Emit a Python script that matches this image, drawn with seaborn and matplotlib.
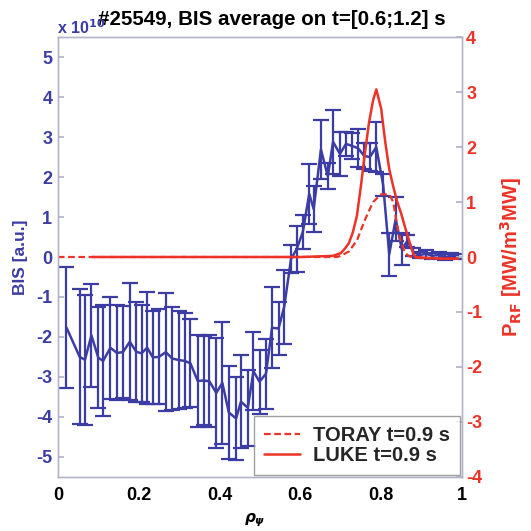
import numpy as np
import matplotlib
matplotlib.use("Agg")
import matplotlib.pyplot as plt
import seaborn as sns

# BIS profile (units of 1e10), averaged on t=[0.6;1.2] s
rho_bis = [0.021, 0.054, 0.067, 0.083, 0.100, 0.112, 0.130, 0.146, 0.161, 0.178,
           0.194, 0.207, 0.221, 0.235, 0.250, 0.267, 0.283, 0.300, 0.314, 0.328,
           0.346, 0.361, 0.375, 0.392, 0.407, 0.423, 0.441, 0.453, 0.470, 0.484,
           0.499, 0.515, 0.530, 0.546, 0.560, 0.577, 0.591, 0.606, 0.622, 0.633,
           0.651, 0.668, 0.681, 0.698, 0.713, 0.728, 0.743, 0.758, 0.772, 0.788,
           0.805, 0.820, 0.836, 0.851, 0.865, 0.880, 0.896, 0.911, 0.927, 0.942,
           0.958, 0.973, 0.989]
bis = [-1.76, -2.50, -2.57, -1.96, -2.52, -2.60, -2.27, -2.40, -2.38, -2.12,
       -2.37, -2.41, -2.27, -2.51, -2.50, -2.38, -2.54, -2.58, -2.60, -2.66,
       -3.10, -3.09, -3.11, -3.40, -3.15, -3.89, -4.04, -3.62, -3.77, -2.86,
       -3.12, -2.92, -1.77, -1.79, -1.25, -0.05, 0.20, 0.62, 1.58, 1.20,
       2.69, 2.02, 2.88, 2.58, 2.83, 2.78, 2.72, 2.53, 2.50, 2.75,
       1.80, 0.07, 0.95, 0.20, 0.40, 0.12, 0.05, 0.08, 0.03, 0.05,
       0.00, 0.03, 0.02]
bis_err = [1.52, 1.69, 1.63, 1.28, 1.27, 1.39, 1.28, 1.19, 1.16, 1.46,
           1.25, 1.22, 1.40, 1.17, 1.19, 1.47, 1.28, 1.23, 1.19, 1.10,
           1.15, 1.12, 1.15, 1.37, 1.53, 1.16, 1.03, 1.16, 0.95, 0.98,
           0.80, 0.88, 1.01, 0.67, 0.93, 0.36, 0.58, 0.43, 0.75, 0.58,
           0.74, 0.33, 0.80, 0.55, 0.30, 0.33, 0.48, 0.33, 0.35, 0.63,
           0.28, 0.54, 0.56, 0.39, 0.14, 0.10, 0.08, 0.10, 0.08, 0.07,
           0.07, 0.06, 0.06]

# RF power deposition profiles [MW/m^3/MW]
rho_toray = [0.0, 0.2, 0.4, 0.6, 0.69, 0.70, 0.72, 0.74, 0.76, 0.78, 0.80, 0.82,
             0.83, 0.84, 0.85, 0.86, 0.87, 0.88, 0.90, 0.95, 0.99]
p_toray = [0.0, 0.0, 0.0, 0.0, 0.0, 0.02, 0.10, 0.30, 0.68, 1.00, 1.14, 1.14,
           1.00, 0.55, 0.25, 0.07, 0.01, 0.0, -0.02, -0.03, -0.03]
rho_luke = [0.085, 0.2, 0.4, 0.6, 0.68, 0.70, 0.71, 0.72, 0.73, 0.74, 0.75, 0.76,
            0.77, 0.78, 0.788, 0.80, 0.81, 0.82, 0.83, 0.84, 0.85, 0.86, 0.87,
            0.88, 0.885, 0.90, 0.95, 0.99]
p_luke = [0.0, 0.0, 0.0, 0.0, 0.02, 0.07, 0.15, 0.25, 0.45, 0.75, 1.30, 1.90,
          2.45, 2.85, 3.05, 2.70, 2.10, 1.60, 1.28, 1.00, 0.78, 0.52, 0.28,
          0.05, 0.0, -0.01, -0.03, -0.03]

x_ticks = [0, 0.2, 0.4, 0.6, 0.8, 1]
x_tick_labels = ["0", "0.2", "0.4", "0.6", "0.8", "1"]
left_ticks = [-5, -4, -3, -2, -1, 0, 1, 2, 3, 4, 5]
right_ticks = [-4, -3, -2, -1, 0, 1, 2, 3, 4]

BLUE = "#3c3ca5"
RED = "#ec3328"
SPINE = "#b4b4c8"

sns.set_theme(style="white")
plt.rcParams["font.family"] = ["Liberation Sans", "DejaVu Sans"]
plt.rcParams["font.weight"] = "bold"

fig = plt.figure(figsize=(5.31, 5.31), dpi=100)
ax = fig.add_axes([0.109, 0.102, 0.761, 0.828])

ax.errorbar(rho_bis, bis, yerr=bis_err, fmt="none", ecolor=BLUE,
            elinewidth=1.6, capsize=5.5, capthick=1.6, zorder=2)
sns.lineplot(x=rho_bis, y=bis, ax=ax, color=BLUE, linewidth=1.8, zorder=3)

ax.set_xlim(0, 1)
ax.set_ylim(-5.5, 5.5)
ax.set_xticks(x_ticks)
ax.set_xticklabels(x_tick_labels)
ax.set_yticks(left_ticks)
ax.set_yticklabels([str(t) for t in left_ticks])
ax.tick_params(axis="x", direction="in", length=4, colors=SPINE,
               labelcolor="black", labelsize=13, pad=7)
ax.tick_params(axis="y", direction="in", length=4, colors=SPINE,
               labelcolor=BLUE, labelsize=13, pad=4)
for lbl in ax.get_xticklabels() + ax.get_yticklabels():
    lbl.set_fontweight("bold")
ax.set_ylabel("BIS [a.u.]", color=BLUE, fontsize=12.5, fontweight="bold",
              labelpad=6)
ax.set_xlabel(r"$\rho_\psi$", color="black", fontsize=11, labelpad=4)
ax.xaxis.set_label_coords(0.486, -0.078)

ax2 = ax.twinx()
sns.lineplot(x=rho_toray, y=p_toray, ax=ax2, color=RED, linewidth=1.6,
             linestyle=(0, (3, 1.6)), label="TORAY t=0.9 s")
sns.lineplot(x=rho_luke, y=p_luke, ax=ax2, color=RED, linewidth=1.8,
             label="LUKE t=0.9 s")
ax2.set_ylim(-4, 4)
ax2.set_yticks(right_ticks)
ax2.set_yticklabels([str(t) for t in right_ticks])
ax2.tick_params(axis="y", direction="in", length=4, colors=SPINE,
                labelcolor=RED, labelsize=13, pad=3)
for lbl in ax2.get_yticklabels():
    lbl.set_fontweight("bold")
ax2.set_ylabel("")

for a in (ax, ax2):
    for s in a.spines.values():
        s.set_color(SPINE)
        s.set_linewidth(1.0)

leg = ax2.legend(loc="lower right", bbox_to_anchor=(0.996, 0.004),
                 fontsize=14.5, frameon=True, fancybox=False,
                 handlelength=1.8, handletextpad=0.65, borderpad=0.5,
                 labelspacing=0.05, borderaxespad=0.0)
leg.get_frame().set_edgecolor("#888888")
leg.get_frame().set_linewidth(1.0)
for t in leg.get_texts():
    t.set_fontweight("bold")

fig.text(0.963, 0.516, r"P$_{\mathbf{RF}}$ [MW/m$^{\mathbf{3}}$MW]", color=RED,
         fontsize=14.5, fontweight="bold", rotation=90, ha="center",
         va="center")
fig.text(0.512, 0.964, "#25549, BIS average on t=[0.6;1.2] s", color="black",
         fontsize=14.8, fontweight="bold", ha="center", va="center")
fig.text(0.107, 0.948, r"x 10$^{\mathbf{10}}$", color=BLUE, fontsize=11.5,
         fontweight="bold", ha="left", va="center")

fig.savefig("out.png", dpi=100, facecolor="white")
